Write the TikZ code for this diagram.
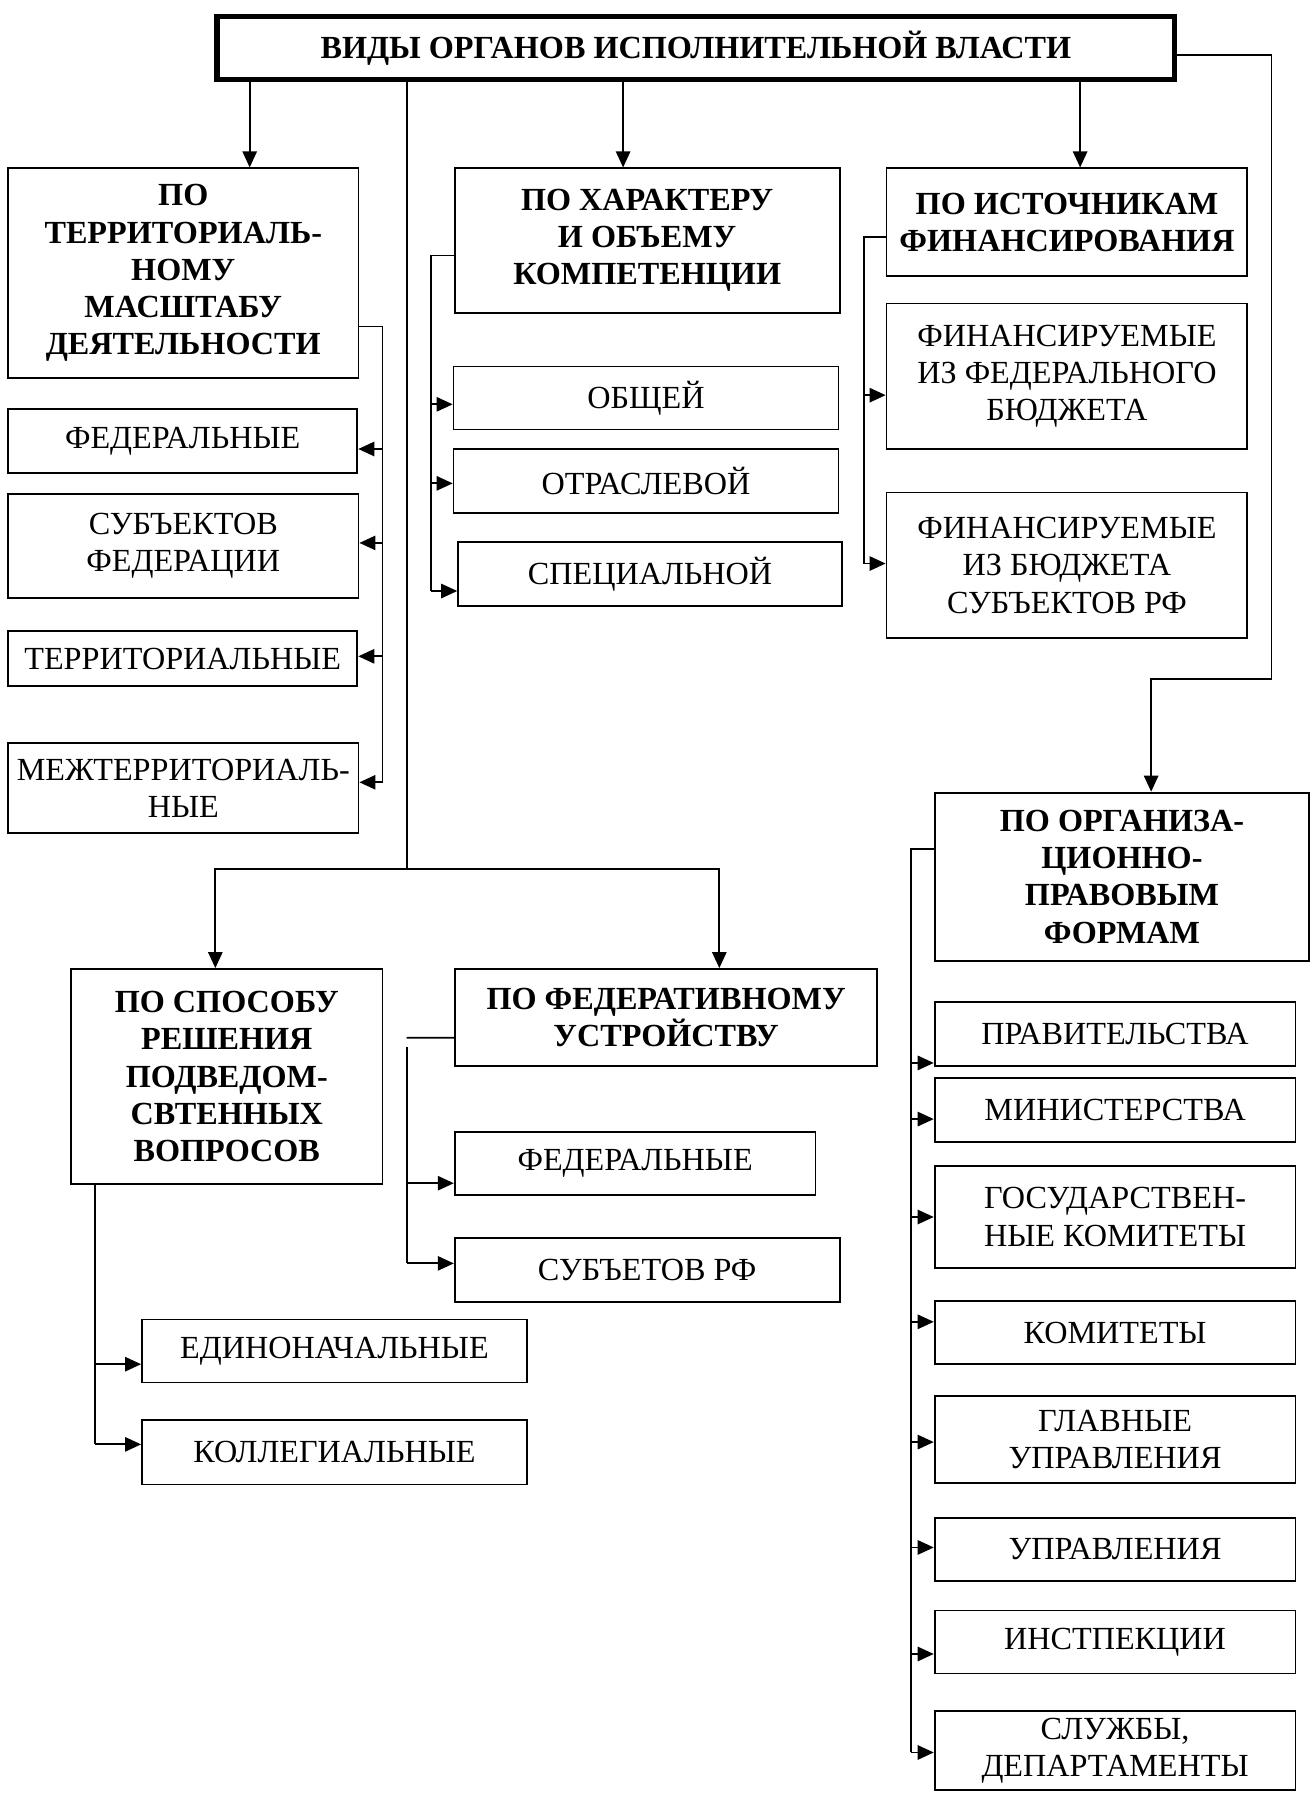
\documentclass[tikz,border=0pt]{standalone}
\usepackage{fontspec}
\setmainfont{Liberation Serif}
\usepackage{tikz}
\usetikzlibrary{arrows.meta}

\begin{document}
\begin{tikzpicture}[
    box/.style={draw, rectangle, align=center, inner sep=0pt, line width=0.9pt,
                font=\fontsize{16}{18.5}\selectfont},
    headbox/.style={box, font=\fontsize{16}{18.5}\selectfont\bfseries},
    arrow/.style={-{Triangle[length=2.8mm, width=2.5mm]}, line width=0.9pt},
    link/.style={line width=0.9pt}
]
\useasboundingbox (0,0) rectangle (22.94,-31.36);

% ====================== TOP ======================
\node[headbox, line width=2.8pt, minimum width=16.72cm, minimum height=1.1cm] (top) at (12.15,-0.84)
    {ВИДЫ ОРГАНОВ ИСПОЛНИТЕЛЬНОЙ ВЛАСТИ};

% ====================== TERRITORIAL SCALE ======================
\node[headbox, minimum width=6.12cm, minimum height=3.66cm] (terr) at (3.2,-4.77)
    {ПО\\ТЕРРИТОРИАЛЬ-\\НОМУ\\МАСШТАБУ\\ДЕЯТЕЛЬНОСТИ};
\node[box, minimum width=6.1cm, minimum height=1.12cm] (lfed) at (3.19,-7.7) {ФЕДЕРАЛЬНЫЕ};
\node[box, minimum width=6.12cm, minimum height=1.82cm] (lsubj) at (3.2,-9.53) {СУБЪЕКТОВ\\ФЕДЕРАЦИИ};
\node[box, minimum width=6.1cm, minimum height=0.96cm] (lterr) at (3.19,-11.5) {ТЕРРИТОРИАЛЬНЫЕ};
\node[box, minimum width=6.12cm, minimum height=1.56cm] (lmezh) at (3.2,-13.76) {МЕЖТЕРРИТОРИАЛЬ-\\НЫЕ};

% ====================== COMPETENCE ======================
\node[headbox, minimum width=6.72cm, minimum height=2.52cm] (harakter) at (11.3,-4.2)
    {ПО ХАРАКТЕРУ\\И ОБЪЕМУ\\КОМПЕТЕНЦИИ};
\node[box, minimum width=6.72cm, minimum height=1.1cm] (obsh) at (11.28,-6.95) {ОБЩЕЙ};
\node[box, minimum width=6.72cm, minimum height=1.12cm] (otrasl) at (11.28,-8.4) {ОТРАСЛЕВОЙ};
\node[box, minimum width=6.7cm, minimum height=1.12cm] (spec) at (11.35,-10.02) {СПЕЦИАЛЬНОЙ};

% ====================== FINANCING ======================
\node[headbox, minimum width=6.3cm, minimum height=1.88cm] (istoch) at (18.63,-3.88)
    {ПО ИСТОЧНИКАМ\\ФИНАНСИРОВАНИЯ};
\node[box, minimum width=6.3cm, minimum height=2.54cm] (fin1) at (18.63,-6.57)
    {ФИНАНСИРУЕМЫЕ\\ИЗ ФЕДЕРАЛЬНОГО\\БЮДЖЕТА};
\node[box, minimum width=6.3cm, minimum height=2.54cm] (fin2) at (18.63,-9.87)
    {ФИНАНСИРУЕМЫЕ\\ИЗ БЮДЖЕТА\\СУБЪЕКТОВ РФ};

% ====================== DECISION METHOD ======================
\node[headbox, minimum width=5.44cm, minimum height=3.76cm] (sposob) at (3.96,-18.8)
    {ПО СПОСОБУ\\РЕШЕНИЯ\\ПОДВЕДОМ-\\СВТЕННЫХ\\ВОПРОСОВ};
\node[box, minimum width=6.72cm, minimum height=1.1cm] (edin) at (5.84,-23.59) {ЕДИНОНАЧАЛЬНЫЕ};
\node[box, minimum width=6.72cm, minimum height=1.12cm] (koll) at (5.84,-25.36) {КОЛЛЕГИАЛЬНЫЕ};

% ====================== FEDERAL STRUCTURE ======================
\node[headbox, minimum width=7.38cm, minimum height=1.7cm] (federat) at (11.63,-17.77)
    {ПО ФЕДЕРАТИВНОМУ\\УСТРОЙСТВУ};
\node[box, minimum width=6.3cm, minimum height=1.1cm] (bfed) at (11.09,-20.31) {ФЕДЕРАЛЬНЫЕ};
\node[box, minimum width=6.72cm, minimum height=1.12cm] (bsubj) at (11.3,-22.18) {СУБЪЕТОВ РФ};

% ====================== LEGAL FORMS ======================
\node[headbox, minimum width=6.54cm, minimum height=2.94cm] (org) at (19.59,-15.31)
    {ПО ОРГАНИЗА-\\ЦИОННО-\\ПРАВОВЫМ\\ФОРМАМ};
\node[box, minimum width=6.3cm, minimum height=1.12cm] (prav) at (19.47,-18.06) {ПРАВИТЕЛЬСТВА};
\node[box, minimum width=6.3cm, minimum height=1.12cm] (minist) at (19.47,-19.38) {МИНИСТЕРСТВА};
\node[box, minimum width=6.3cm, minimum height=1.78cm] (goskom) at (19.47,-21.25) {ГОСУДАРСТВЕН-\\НЫЕ КОМИТЕТЫ};
\node[box, minimum width=6.3cm, minimum height=1.1cm] (komit) at (19.47,-23.27) {КОМИТЕТЫ};
\node[box, minimum width=6.3cm, minimum height=1.52cm] (glav) at (19.47,-25.14) {ГЛАВНЫЕ\\УПРАВЛЕНИЯ};
\node[box, minimum width=6.3cm, minimum height=1.1cm] (uprav) at (19.47,-27.05) {УПРАВЛЕНИЯ};
\node[box, minimum width=6.3cm, minimum height=1.1cm] (inspek) at (19.47,-28.67) {ИНСТПЕКЦИИ};
\node[box, minimum width=6.3cm, minimum height=1.38cm] (sluzh) at (19.47,-30.57) {СЛУЖБЫ,\\ДЕПАРТАМЕНТЫ};

% ====================== ARROWS FROM TOP ======================
\draw[arrow] ([xshift=1.16cm]terr.north |- top.south) -- ([xshift=1.16cm]terr.north);
\draw[arrow] ([xshift=-0.42cm]harakter.north |- top.south) -- ([xshift=-0.42cm]harakter.north);
\draw[arrow] ([xshift=0.23cm]istoch.north |- top.south) -- ([xshift=0.23cm]istoch.north);

\coordinate (orgbend) at (22.2,-11.86);
\draw[arrow] ([yshift=-0.12cm]top.east) -| (orgbend) -| ([xshift=0.51cm]org.north);

\coordinate (split) at (7.11,-15.18);
\draw[link] (top.south -| split) -- (split);
\draw[arrow] (split) -| ([xshift=-0.2cm]sposob.north);
\draw[arrow] (split) -| ([xshift=0.93cm]federat.north);

% ====================== BRANCHES ======================
\coordinate (terrbus) at (6.68,-13.66);
\draw[link] ([yshift=-0.93cm]terr.east) -| (terrbus);
\foreach \n/\s in {lfed/-0.14, lsubj/0.05, lterr/0.04, lmezh/0.1}
    \draw[arrow] ([yshift=\s cm]\n.east -| terrbus) -- ([yshift=\s cm]\n.east);

\coordinate (harbus) at (7.52,-10.32);
\draw[link] ([yshift=-0.26cm]harakter.west) -| (harbus);
\foreach \n/\s in {obsh/-0.11, otrasl/-0.04, spec/-0.3}
    \draw[arrow] ([yshift=\s cm]\n.west -| harbus) -- ([yshift=\s cm]\n.west);

\coordinate (finbus) at (15.08,-9.84);
\draw[link] ([yshift=-0.26cm]istoch.west) -| (finbus);
\foreach \n/\s in {fin1/-0.33, fin2/0.03}
    \draw[arrow] ([yshift=\s cm]\n.west -| finbus) -- ([yshift=\s cm]\n.west);

\coordinate (fedstub) at (7.1,-18.12);
\coordinate (fedbus) at (7.1,-22.06);
\draw[link] ([yshift=-0.35cm]federat.west) -- (fedstub);
\draw[link] ([yshift=-0.16cm]fedstub) -- (fedbus);
\foreach \n/\s in {bfed/-0.35, bsubj/0.12}
    \draw[arrow] ([yshift=\s cm]\n.west -| fedbus) -- ([yshift=\s cm]\n.west);

\coordinate (spbus) at (1.66,-25.22);
\draw[link] (sposob.south -| spbus) -- (spbus);
\foreach \n/\s in {edin/-0.23, koll/0.14}
    \draw[arrow] ([yshift=\s cm]\n.west -| spbus) -- ([yshift=\s cm]\n.west);

\coordinate (orgbus) at (15.9,-30.6);
\draw[link] ([yshift=0.49cm]org.west) -| (orgbus);
\foreach \n/\s in {prav/-0.5, minist/-0.16, goskom/0, komit/0.19, glav/-0.04, uprav/0.03, inspek/-0.21, sluzh/-0.03}
    \draw[arrow] ([yshift=\s cm]\n.west -| orgbus) -- ([yshift=\s cm]\n.west);

\end{tikzpicture}
\end{document}
